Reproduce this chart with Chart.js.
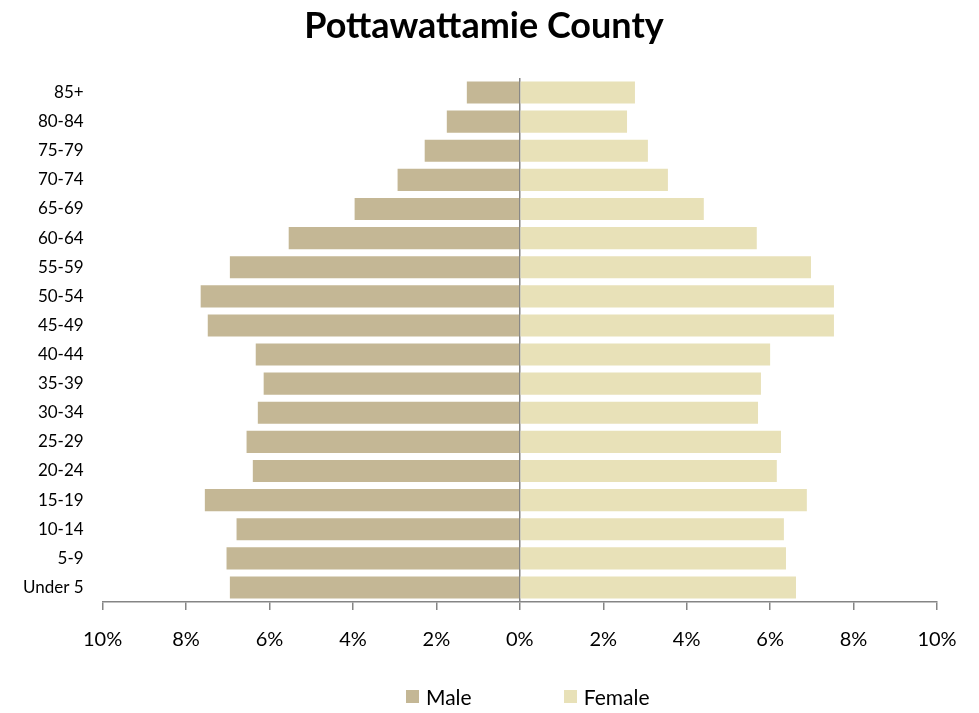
<!DOCTYPE html>
<html>
<head>
<meta charset="utf-8">
<script src="https://cdn.jsdelivr.net/npm/chart.js@4.4.1/dist/chart.umd.min.js"></script>
<style>
  html, body { margin: 0; padding: 0; background: #fff; }
  #wrap { position: relative; width: 979px; height: 713px; }
  #title { position: absolute; left: 0; width: 968px; top: 6px; text-align: center; font-family: Lato, "Noto Sans", sans-serif; font-weight: bold; font-size: 36px; line-height: 36px; color: #000; }
  #legend { position: absolute; left: 406px; top: 684px; display: flex; font-family: Lato, "Noto Sans", sans-serif; font-size: 21px; color: #000; }
  .item { display: flex; align-items: center; }
  .sw { width: 13px; height: 13px; margin-right: 7px; }
</style>
</head>
<body>
<div id="wrap">
  <canvas id="c" width="979" height="713"></canvas>
  <div id="title">Pottawattamie County</div>
  <div id="legend"></div>
</div>
<script>
const categories = ['85+','80-84','75-79','70-74','65-69','60-64','55-59','50-54','45-49','40-44','35-39','30-34','25-29','20-24','15-19','10-14','5-9','Under 5'];
const maleValues = [1.27, 1.75, 2.28, 2.93, 3.96, 5.54, 6.95, 7.65, 7.48, 6.33, 6.14, 6.28, 6.55, 6.40, 7.55, 6.79, 7.03, 6.95];
const femaleValues = [2.76, 2.57, 3.07, 3.55, 4.41, 5.68, 6.98, 7.53, 7.53, 6.00, 5.78, 5.71, 6.26, 6.16, 6.88, 6.33, 6.38, 6.62];
const xTicks = [-10, -8, -6, -4, -2, 0, 2, 4, 6, 8, 10];
const seriesNames = ['Male', 'Female'];
const seriesColors = ['#C4B795', '#E8E1B8'];

const FONT = 'Lato, "Noto Sans", sans-serif';

new Chart(document.getElementById('c'), {
  type: 'bar',
  data: {
    labels: categories,
    datasets: [
      { label: seriesNames[0], data: maleValues.map(v => -v), backgroundColor: seriesColors[0], borderWidth: 0 },
      { label: seriesNames[1], data: femaleValues, backgroundColor: seriesColors[1], borderWidth: 0 }
    ]
  },
  options: {
    indexAxis: 'y',
    responsive: false,
    animation: false,
    layout: { padding: { left: 4, right: 42, top: 78, bottom: 43 } },
    datasets: { bar: { categoryPercentage: 1.0, barPercentage: 0.76 } },
    plugins: {
      legend: { display: false },
      tooltip: { enabled: false },
      title: { display: false }
    },
    scales: {
      x: {
        stacked: true,
        min: -10, max: 10,
        afterBuildTicks: axis => { axis.ticks = xTicks.map(v => ({ value: v })); },
        ticks: {
          color: '#000',
          font: { family: FONT, size: 20 },
          padding: 18,
          callback: v => Math.abs(v) + '%'
        },
        grid: {
          color: ctx => (ctx.tick && ctx.tick.value === 0) ? '#858585' : 'rgba(0,0,0,0)',
          lineWidth: 1.5,
          tickColor: '#858585',
          tickLength: 8,
          drawOnChartArea: true
        },
        border: { display: true, color: '#858585', width: 1.5 }
      },
      y: {
        stacked: true,
        ticks: {
          color: '#000',
          font: { family: FONT, size: 17 },
          padding: 19,
          autoSkip: false
        },
        grid: { display: false, drawTicks: false },
        border: { display: false }
      }
    }
  }
});

const lg = document.getElementById('legend');
seriesNames.forEach((n, i) => {
  const it = document.createElement('div');
  it.className = 'item';
  if (i > 0) it.style.marginLeft = '92px';
  const sw = document.createElement('div');
  sw.className = 'sw';
  sw.style.background = seriesColors[i];
  const tx = document.createElement('span');
  tx.textContent = n;
  it.appendChild(sw); it.appendChild(tx);
  lg.appendChild(it);
});
</script>
</body>
</html>
